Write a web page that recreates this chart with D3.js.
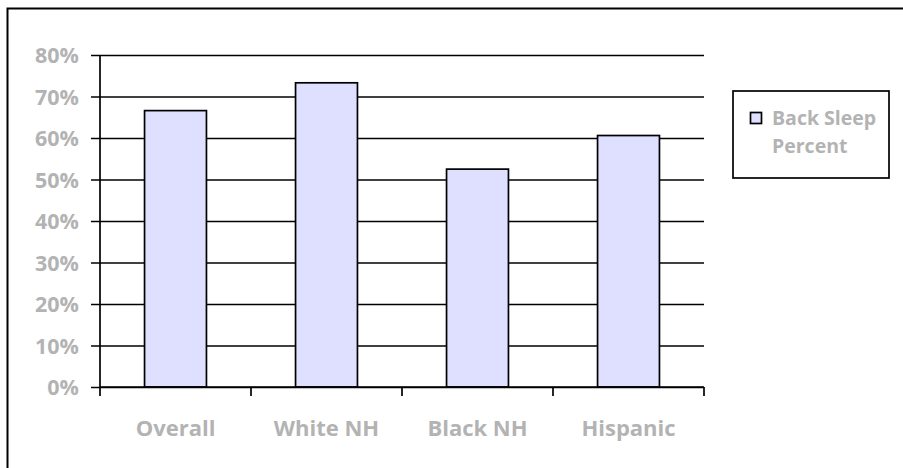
<!DOCTYPE html>
<html>
<head>
<meta charset="utf-8">
<script src="https://cdn.jsdelivr.net/npm/d3@7"></script>
<style>
  body { margin: 0; background: #fff; }
  text { font-family: "Open Sans", Lato, sans-serif; font-weight: 700; fill: #b3b3b3; }
</style>
</head>
<body>
<div id="chart"></div>
<script>
// chart values
const categories = ['Overall', 'White NH', 'Black NH', 'Hispanic'];
const backSleep = [0.666, 0.733, 0.525, 0.606];
const yTicks = [0, 0.1, 0.2, 0.3, 0.4, 0.5, 0.6, 0.7, 0.8];
const seriesName = ['Back Sleep', 'Percent'];

const width = 903;
const height = 468;

const svg = d3.select('#chart')
  .append('svg')
  .attr('width', width)
  .attr('height', height);

// outer chart border (runs off the right and bottom edge)
svg.append('rect')
  .attr('x', 7.5)
  .attr('y', 8.5)
  .attr('width', 1000)
  .attr('height', 1000)
  .attr('fill', 'none')
  .attr('stroke', '#000')
  .attr('stroke-width', 2);

const plot = { left: 100, right: 704, top: 55, bottom: 387 };

const x = d3.scaleBand()
  .domain(categories)
  .range([plot.left, plot.right])
  .paddingInner(0.59)
  .paddingOuter(0.295);

const xBoundary = d3.scaleLinear()
  .domain([0, categories.length])
  .range([plot.left, plot.right]);

const y = d3.scaleLinear()
  .domain([0, 0.8])
  .range([plot.bottom, plot.top]);

// gridlines + y axis
const yAxis = d3.axisLeft(y)
  .tickValues(yTicks)
  .tickFormat(d3.format('.0%'))
  .tickSize(-(plot.right - plot.left))
  .tickPadding(12);

const gy = svg.append('g')
  .attr('transform', `translate(${plot.left},0)`)
  .call(yAxis);

gy.select('.domain').remove();
gy.selectAll('.tick line')
  .attr('x1', -9)
  .attr('stroke', '#000')
  .attr('stroke-width', 1.7);
gy.selectAll('.tick text')
  .attr('x', -21)
  .attr('font-size', 21.5)
  .attr('dy', '0.36em');

// y axis line
svg.append('line')
  .attr('x1', plot.left).attr('x2', plot.left)
  .attr('y1', plot.top).attr('y2', plot.bottom)
  .attr('stroke', '#000')
  .attr('stroke-width', 1.7);

// bars
svg.append('g')
  .selectAll('rect')
  .data(categories)
  .enter().append('rect')
  .attr('x', d => x(d))
  .attr('width', x.bandwidth())
  .attr('y', (d, i) => y(backSleep[i]))
  .attr('height', (d, i) => y(0) - y(backSleep[i]))
  .attr('fill', '#dfdfff')
  .attr('stroke', '#000')
  .attr('stroke-width', 1.7);

// x axis line + category boundary ticks
svg.append('line')
  .attr('x1', plot.left).attr('x2', plot.right)
  .attr('y1', plot.bottom).attr('y2', plot.bottom)
  .attr('stroke', '#000')
  .attr('stroke-width', 1.7);

svg.append('g')
  .selectAll('line')
  .data(d3.range(categories.length + 1))
  .enter().append('line')
  .attr('x1', d => xBoundary(d))
  .attr('x2', d => xBoundary(d))
  .attr('y1', plot.bottom)
  .attr('y2', plot.bottom + 9)
  .attr('stroke', '#000')
  .attr('stroke-width', 1.7);

svg.append('g')
  .selectAll('text')
  .data(categories)
  .enter().append('text')
  .attr('x', d => x(d) + x.bandwidth() / 2)
  .attr('y', 436)
  .attr('text-anchor', 'middle')
  .attr('font-size', 22)
  .text(d => d);

// legend
const legend = svg.append('g');
legend.append('rect')
  .attr('x', 733)
  .attr('y', 91)
  .attr('width', 156)
  .attr('height', 87)
  .attr('fill', '#fff')
  .attr('stroke', '#000')
  .attr('stroke-width', 1.7);

legend.append('rect')
  .attr('x', 750.5)
  .attr('y', 112.5)
  .attr('width', 11)
  .attr('height', 11)
  .attr('fill', '#dfdfff')
  .attr('stroke', '#000')
  .attr('stroke-width', 1.7);

legend.selectAll('text.leg')
  .data(seriesName)
  .enter().append('text')
  .attr('class', 'leg')
  .attr('x', 772)
  .attr('y', (d, i) => 125 + i * 28)
  .attr('font-size', 19.5)
  .text(d => d);
</script>
</body>
</html>
